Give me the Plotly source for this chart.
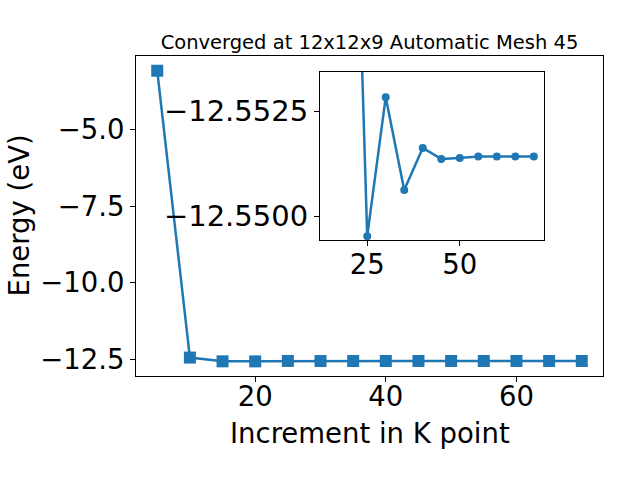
import plotly.graph_objects as go

k_points = [5, 10, 15, 20, 25, 30, 35, 40, 45, 50, 55, 60, 65, 70]
energy = [-3.09, -12.44, -12.562, -12.5641, -12.54952, -12.55283, -12.55062,
          -12.55162, -12.55136, -12.55138, -12.55142, -12.55142, -12.55142, -12.55142]
inset_start = 2  # inset shows k points from 15 onwards

title_text = "Converged at 12x12x9 Automatic Mesh 45"
x_label = "Increment in K point"
y_label = "Energy (eV)"
main_yticks = [-12.5, -10.0, -7.5, -5.0]
main_yticktext = ["\u221212.5", "\u221210.0", "\u22127.5", "\u22125.0"]
main_xticks = [20, 40, 60]
inset_yticks = [-12.5525, -12.5500]
inset_yticktext = ["\u221212.5525", "\u221212.5500"]
inset_xticks = [25, 50]

W, H = 640, 480
BLUE = "#1f77b4"
FONT = "DejaVu Sans"

def px_x(p):
    return p / W

def px_y(p):
    return 1 - p / H

fig = go.Figure()
fig.add_trace(go.Scatter(x=k_points, y=energy, mode="lines+markers",
                         line=dict(color=BLUE, width=2.5),
                         marker=dict(symbol="square", size=12, color=BLUE),
                         xaxis="x", yaxis="y", showlegend=False))
fig.add_trace(go.Scatter(x=k_points[inset_start:], y=energy[inset_start:],
                         mode="lines+markers",
                         line=dict(color=BLUE, width=2.5),
                         marker=dict(symbol="circle", size=8, color=BLUE),
                         cliponaxis=True,
                         xaxis="x2", yaxis="y2", showlegend=False))

def axis_common(fs, standoff=0):
    return dict(showgrid=False, zeroline=False, showline=True, mirror=True,
                linecolor="black", linewidth=1.1, ticks="outside", ticklen=5,
                tickwidth=1.1, tickcolor="black", automargin=False,
                ticklabelstandoff=standoff,
                tickfont=dict(family=FONT, size=fs, color="black"))

fig.update_layout(
    width=W, height=H,
    margin=dict(l=0, r=0, t=0, b=0),
    paper_bgcolor="white", plot_bgcolor="white",
    font=dict(family=FONT, color="black"),
    title=dict(text=title_text, x=369.5 / W, xanchor="center", xref="paper",
               y=px_y(42), yref="container", yanchor="middle",
               font=dict(family=FONT, size=19.5, color="black")),
    xaxis=dict(domain=[px_x(136), px_x(603)], range=[1.75, 73.25],
               tickvals=main_xticks, anchor="y", **axis_common(27.5, -9)),
    yaxis=dict(domain=[px_y(376), px_y(56)], range=[-13.04, -2.61],
               tickvals=main_yticks, ticktext=main_yticktext, anchor="x",
               **axis_common(27.5)),
    xaxis2=dict(domain=[px_x(320), px_x(544)], range=[12.25, 72.75],
                tickvals=inset_xticks, anchor="y2", **axis_common(27.5, -5)),
    yaxis2=dict(domain=[px_y(240), px_y(72)], range=[-12.54943, -12.55343],
                tickvals=inset_yticks, ticktext=inset_yticktext, anchor="x2",
                **axis_common(29)),
    annotations=[
        dict(text=x_label, xref="paper", yref="paper", x=369.5 / W, y=px_y(433),
             xanchor="center", yanchor="middle", showarrow=False,
             font=dict(family=FONT, size=27.5, color="black")),
        dict(text=y_label, xref="paper", yref="paper", x=px_x(18.5), y=px_y(216),
             xanchor="center", yanchor="middle", showarrow=False, textangle=-90,
             font=dict(family=FONT, size=27.5, color="black")),
    ],
)

fig.write_html("out.html",
               config={"displayModeBar": False},
               post_script="document.body.style.margin='0px';"
                           "document.body.style.overflow='hidden';")
